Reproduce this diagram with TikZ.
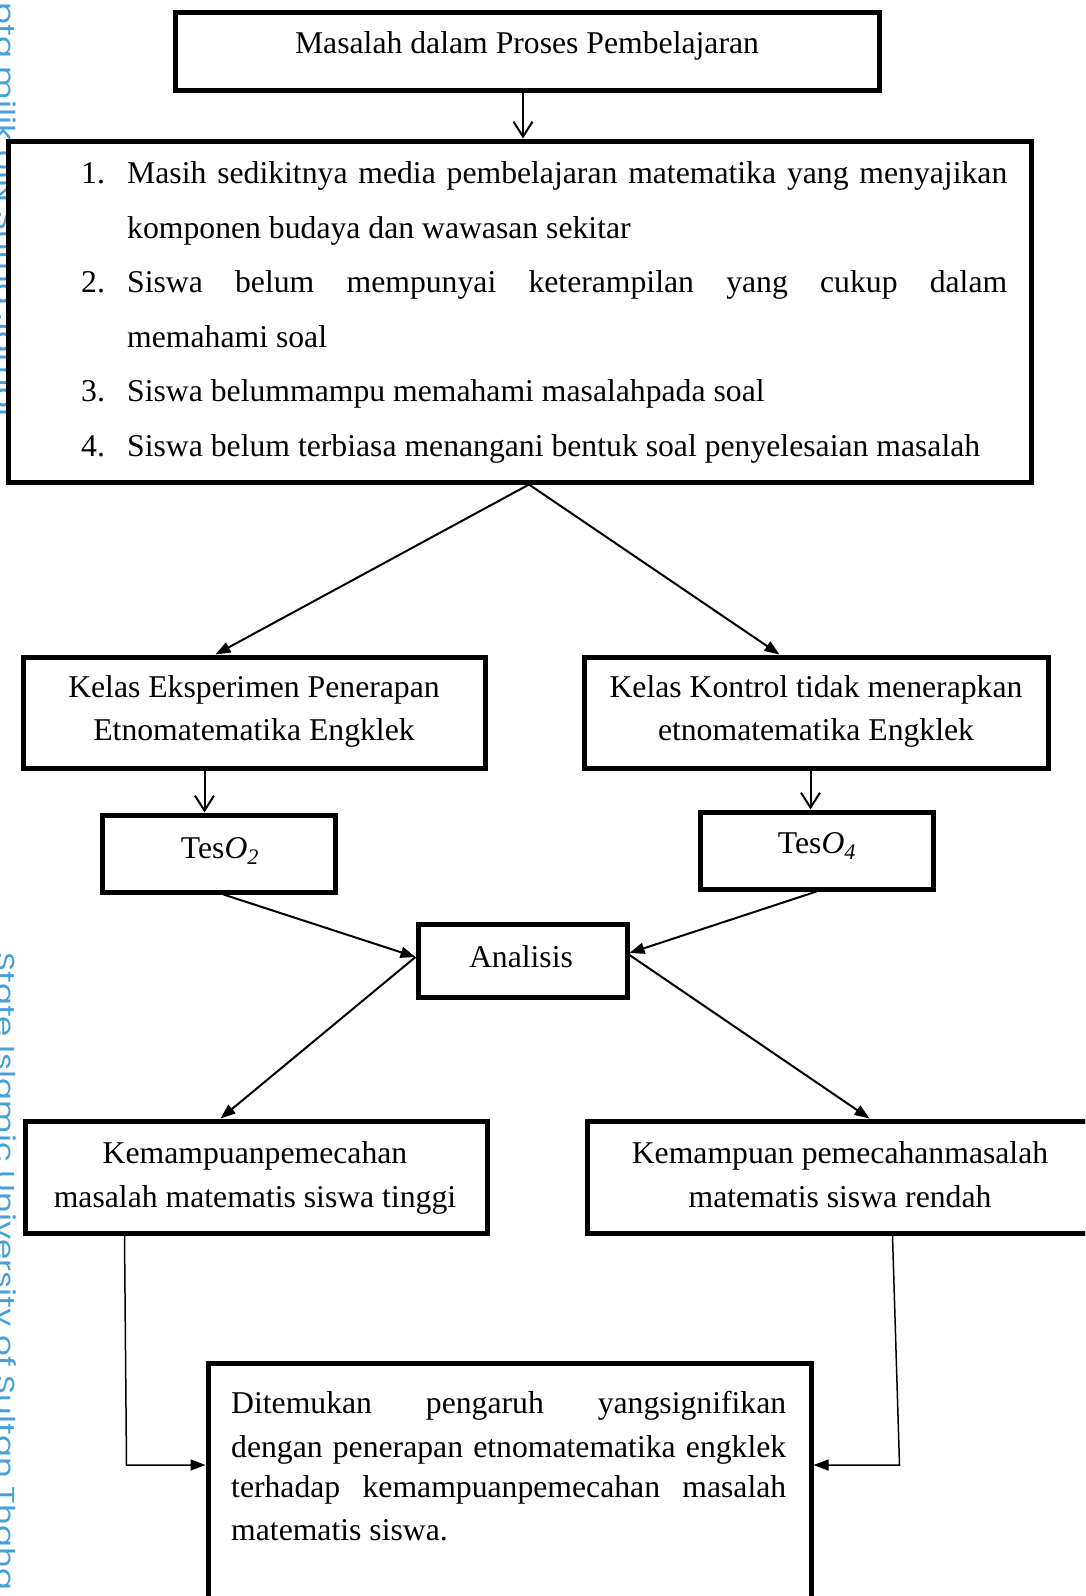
\documentclass[tikz,border=0pt]{standalone}
\usepackage{fontspec}
\setmainfont{Liberation Serif}
\newfontfamily\wmfont{Poppins}
\usetikzlibrary{arrows.meta,calc}
\definecolor{wmblue}{RGB}{70,160,220}
\begin{document}
\begin{tikzpicture}[x=1pt,y=-1pt,
  box/.style={draw,line width=5pt,fill=white,rectangle,inner sep=0pt},
  txt/.style={inner sep=0pt,font=\fontsize{31.7pt}{38pt}\selectfont},
  wm/.style={inner sep=0pt,text=wmblue,font=\wmfont\fontsize{26pt}{30pt}\selectfont},
  con/.style={line width=2pt},
  openarr/.style={con,-{Straight Barb[length=15pt,width=19pt]}},
  fillarr/.style={con,-{Triangle[length=15pt,width=11pt]}},
  thinarr/.style={line width=1.5pt,-{Triangle[length=15pt,width=11pt]}}
]
\clip (0,0) rectangle (1085,1596);
\fill[white] (0,0) rectangle (1085,1596);

% watermark
\node[wm,rotate=-90,anchor=base east] (wm1) at (-3,417) {\scalebox{1.25}[1]{Hak cipta milik UIN Sutha Jambi}};
\node[wm,rotate=-90,anchor=base west] (wm2) at (-3,952) {\scalebox{1.25}[1]{State Islamic University of Sultan Thaha}};

% boxes
\node[box,minimum width=704pt,minimum height=78pt] (b1) at (527,51) {};
\node[box,minimum width=1023pt,minimum height=341pt] (b2) at (519.5,311.5) {};
\node[box,minimum width=462pt,minimum height=111pt] (b3) at (254,712.5) {};
\node[box,minimum width=464pt,minimum height=111pt] (b4) at (816,712.5) {};
\node[box,minimum width=233pt,minimum height=77pt] (b5) at (218.5,853.5) {};
\node[box,minimum width=233pt,minimum height=77pt] (b6) at (816.5,850.5) {};
\node[box,minimum width=209pt,minimum height=73pt] (b7) at (522.5,960.5) {};
\node[box,minimum width=462pt,minimum height=112pt] (b8) at (256,1177) {};
\node[box,minimum width=513pt,minimum height=112pt] (b9) at (843.5,1177) {};
\node[box,minimum width=603pt,minimum height=257pt] (b10) at (509.5,1491.5) {};

% texts
\node[txt,anchor=base] (t1) at (527,53) {Masalah dalam Proses Pembelajaran};

\node[txt,anchor=base west] (n1) at (81,183) {1.};
\node[txt,anchor=base west] (l1) at (127,183) {\makebox[880pt][s]{Masih sedikitnya media pembelajaran matematika yang menyajikan}};
\node[txt,anchor=base west] (l2) at (127,238) {komponen budaya dan wawasan sekitar};
\node[txt,anchor=base west] (n2) at (81,292) {2.};
\node[txt,anchor=base west] (l3) at (127,292) {\makebox[880pt][s]{Siswa belum mempunyai keterampilan yang cukup dalam}};
\node[txt,anchor=base west] (l4) at (127,347) {memahami soal};
\node[txt,anchor=base west] (n3) at (81,401) {3.};
\node[txt,anchor=base west] (l5) at (127,401) {Siswa belummampu memahami masalahpada soal};
\node[txt,anchor=base west] (n4) at (81,456) {4.};
\node[txt,anchor=base west] (l6) at (127,456) {Siswa belum terbiasa menangani bentuk soal penyelesaian masalah};

\node[txt,anchor=base] (t3a) at (254,697) {Kelas Eksperimen Penerapan};
\node[txt,anchor=base] (t3b) at (254,740) {Etnomatematika Engklek};
\node[txt,anchor=base] (t4a) at (816,697) {Kelas Kontrol tidak menerapkan};
\node[txt,anchor=base] (t4b) at (816,740) {etnomatematika Engklek};

\node[txt,anchor=base] (t5) at (220,858) {Tes\textit{O\textsubscript{2}}};
\node[txt,anchor=base] (t6) at (817,853) {Tes\textit{O\textsubscript{4}}};
\node[txt,anchor=base] (t7) at (521,967) {Analisis};

\node[txt,anchor=base] (t8a) at (255,1163) {Kemampuanpemecahan};
\node[txt,anchor=base] (t8b) at (255,1207) {masalah matematis siswa tinggi};
\node[txt,anchor=base] (t9a) at (840,1163) {Kemampuan pemecahanmasalah};
\node[txt,anchor=base] (t9b) at (840,1207) {matematis siswa rendah};

\node[txt,anchor=base west] (t10a) at (231,1413) {\makebox[555pt][s]{Ditemukan pengaruh yangsignifikan}};
\node[txt,anchor=base west] (t10b) at (231,1457) {\makebox[555pt][s]{dengan penerapan etnomatematika engklek}};
\node[txt,anchor=base west] (t10c) at (231,1497) {\makebox[555pt][s]{terhadap kemampuanpemecahan masalah}};
\node[txt,anchor=base west] (t10d) at (231,1540) {matematis siswa.};

% connectors
\coordinate (apex) at ($(b2.south)+(9.5,0)$);
\draw[openarr] ($(b1.south)+(-4,0)$) -- ($(b2.north)+(3.5,0)$);
\draw[fillarr] (apex) -- ($(b3.north west)+(195,0)$);
\draw[fillarr] (apex) -- ($(b4.north west)+(198,0)$);
\draw[openarr] ($(b3.south west)+(184,0)$) -- ($(b5.north west)+(105,0)$);
\draw[openarr] ($(b4.south west)+(229,0)$) -- ($(b6.north west)+(113,0)$);
\draw[fillarr] ($(b5.south west)+(124,0)$) -- ($(b7.west)+(0,-3.5)$);
\draw[fillarr] ($(b6.south west)+(119,0)$) -- ($(b7.east)+(0,-7.5)$);
\draw[fillarr] ($(b7.west)+(0,-3.5)$) -- ($(b8.north west)+(198,0)$);
\draw[fillarr] ($(b7.east)+(0,-5.5)$) -- ($(b9.north west)+(285,0)$);
\draw[thinarr] ($(b8.south west)+(102,0)$) -- ($(b10.west)+(-79,-26.5)$) -- ($(b10.west)+(0,-26.5)$);
\draw[thinarr] ($(b9.south west)+(308,0)$) -- ($(b10.east)+(86,-26.5)$) -- ($(b10.east)+(0,-26.5)$);
\end{tikzpicture}
\end{document}
